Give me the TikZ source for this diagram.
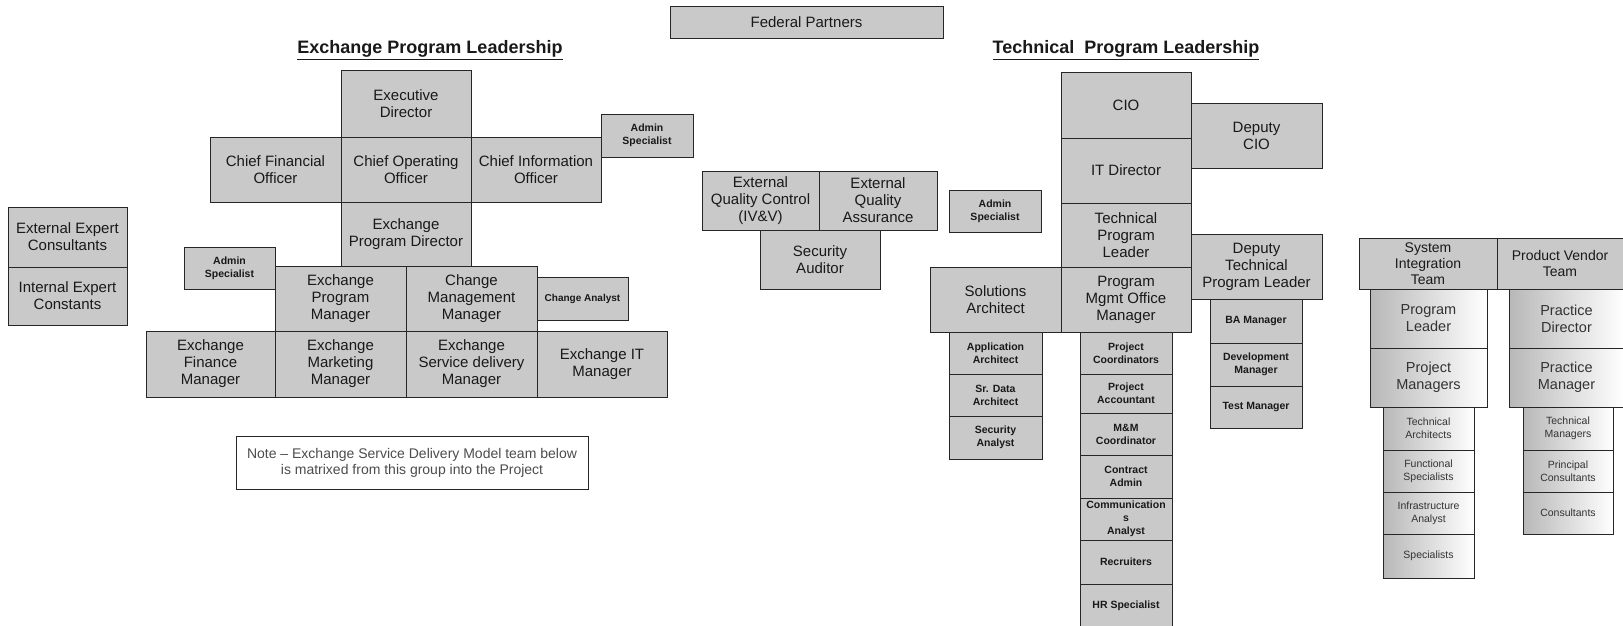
\documentclass[tikz,border=0pt]{standalone}
\usepackage{fontspec}
\setmainfont{Liberation Sans}
\usetikzlibrary{shadings}
\tikzset{
  base/.style={draw=black!85, line width=0.9pt, inner sep=0pt, outer sep=0pt, align=center, fill=black!21, text=black!90},
  big/.style={base, font=\fontsize{15}{17}\selectfont},
  sml/.style={base, font=\bfseries\fontsize{10.5}{13}\selectfont},
  xsml/.style={base, font=\bfseries\fontsize{10}{12}\selectfont},
  hdr/.style={base, font=\fontsize{14}{16}\selectfont},
  grad/.style={base, left color=black!28, right color=white, text=black!80, font=\fontsize{14.5}{17}\selectfont},
  gradsml/.style={grad, font=\fontsize{10.5}{13}\selectfont},
  notebox/.style={draw=black!85, line width=0.9pt, inner sep=0pt, outer sep=0pt, align=center, fill=white, text=black!70, font=\fontsize{14}{16}\selectfont},
  ttl/.style={font=\bfseries\fontsize{18}{20}\selectfont, text=black!90, inner sep=0pt}
}
\newcommand\rb[7]{\node[#6, minimum width={(#4-#2)*1pt}, minimum height={(#5-#3)*1pt}] (#1) at ({(#2+#4)/2},{(#3+#5)/2}) {#7};}
\begin{document}
\begin{tikzpicture}[x=1pt,y=-1pt]
\useasboundingbox (0,0) rectangle (1623,625);
% top
\rb{fed}{670}{6}{943}{38}{big}{Federal Partners}
\node[ttl] (t1) at (430,50) {\underline{Exchange Program Leadership}};
\node[ttl] (t2) at (1126,50) {\underline{Technical\ \ Program Leadership}};
% left group
\rb{exec}{341}{70}{471}{137}{big}{Executive\\Director}
\rb{cfo}{210}{137}{341}{202}{big}{Chief Financial\\Officer}
\rb{coo}{341}{137}{471}{202}{big}{Chief Operating\\Officer}
\rb{cinf}{471}{137}{601}{202}{big}{Chief Information\\Officer}
\rb{adm1}{601}{114}{693}{157}{sml}{Admin\\Specialist}
\rb{epd}{341}{202}{471}{266}{big}{Exchange\\Program Director}
\rb{adm2}{184}{247}{275}{289}{sml}{Admin\\Specialist}
\rb{epm}{275}{266}{406}{331}{big}{Exchange\\Program\\Manager}
\rb{cmm}{406}{266}{537}{331}{big}{Change\\Management\\Manager}
\rb{can}{537}{277}{628}{320}{xsml}{Change Analyst}
\rb{efm}{146}{331}{275}{397}{big}{Exchange\\Finance\\Manager}
\rb{emm}{275}{331}{406}{397}{big}{Exchange\\Marketing\\Manager}
\rb{esd}{406}{331}{537}{397}{big}{Exchange\\Service delivery\\Manager}
\rb{eit}{537}{331}{667}{397}{big}{Exchange IT\\Manager}
\rb{ext}{8}{207}{127}{267}{big}{External Expert\\Consultants}
\rb{inx}{8}{267}{127}{325}{big}{Internal Expert\\Constants}
\rb{note}{236}{436}{588}{489}{notebox}{Note -- Exchange Service Delivery Model team below\\is matrixed from this group into the Project}
% middle
\rb{eqc}{702}{171}{819}{230}{big}{External\\Quality Control\\(IV\&V)}
\rb{eqa}{819}{171}{937}{230}{big}{External\\Quality\\Assurance}
\rb{sau}{760}{230}{880}{289}{big}{Security\\Auditor}
% technical
\rb{adm3}{949}{190}{1041}{232}{sml}{Admin\\Specialist}
\rb{cio}{1061}{72}{1191}{138}{big}{CIO}
\rb{itd}{1061}{138}{1191}{203}{big}{IT Director}
\rb{tpl}{1061}{203}{1191}{267}{big}{Technical\\Program\\Leader}
\rb{pmo}{1061}{267}{1191}{332}{big}{Program\\Mgmt Office\\Manager}
\rb{sol}{930}{267}{1061}{332}{big}{Solutions\\Architect}
\rb{dcio}{1191}{103}{1322}{168}{big}{Deputy\\CIO}
\rb{dtpl}{1191}{234}{1322}{299}{big}{Deputy\\Technical\\Program Leader}
\rb{ba}{1210}{299}{1302}{343}{sml}{BA Manager}
\rb{dev}{1210}{343}{1302}{386}{sml}{Development\\Manager}
\rb{tst}{1210}{386}{1302}{428}{sml}{Test Manager}
\rb{aa}{949}{332}{1042}{374}{sml}{Application\\Architect}
\rb{sda}{949}{374}{1042}{416}{sml}{Sr. Data\\Architect}
\rb{san}{949}{416}{1042}{459}{sml}{Security\\Analyst}
\rb{pco}{1080}{332}{1172}{374}{sml}{Project\\Coordinators}
\rb{pac}{1080}{374}{1172}{413}{sml}{Project\\Accountant}
\rb{mmc}{1080}{413}{1172}{455}{sml}{M\&M\\Coordinator}
\rb{cad}{1080}{455}{1172}{498}{sml}{Contract\\Admin}
\rb{coa}{1080}{498}{1172}{540}{sml}{Communication\\s\\Analyst}
\rb{rec}{1080}{540}{1172}{584}{sml}{Recruiters}
\rb{hrs}{1080}{584}{1172}{628}{sml}{HR Specialist}
% vendor teams
\rb{sit}{1359}{238}{1497}{289}{hdr}{System\\Integration\\Team}
\rb{pvt}{1497}{238}{1623}{289}{hdr}{Product Vendor\\Team}
\rb{pl}{1370}{289}{1487}{348}{grad}{Program\\Leader}
\rb{pmg}{1370}{348}{1487}{407}{grad}{Project\\Managers}
\rb{pd}{1509}{289}{1624}{348}{grad}{Practice\\Director}
\rb{prm}{1509}{348}{1624}{407}{grad}{Practice\\Manager}
\rb{ta}{1383}{407}{1474}{450}{gradsml}{Technical\\Architects}
\rb{fs}{1383}{450}{1474}{492}{gradsml}{Functional\\Specialists}
\rb{ia}{1383}{492}{1474}{534}{gradsml}{Infrastructure\\Analyst}
\rb{spc}{1383}{534}{1474}{578}{gradsml}{Specialists}
\rb{tm}{1523}{407}{1613}{450}{gradsml}{Technical\\Managers}
\rb{pcn}{1523}{450}{1613}{492}{gradsml}{Principal\\Consultants}
\rb{cns}{1523}{492}{1613}{534}{gradsml}{Consultants}
\end{tikzpicture}
\end{document}
